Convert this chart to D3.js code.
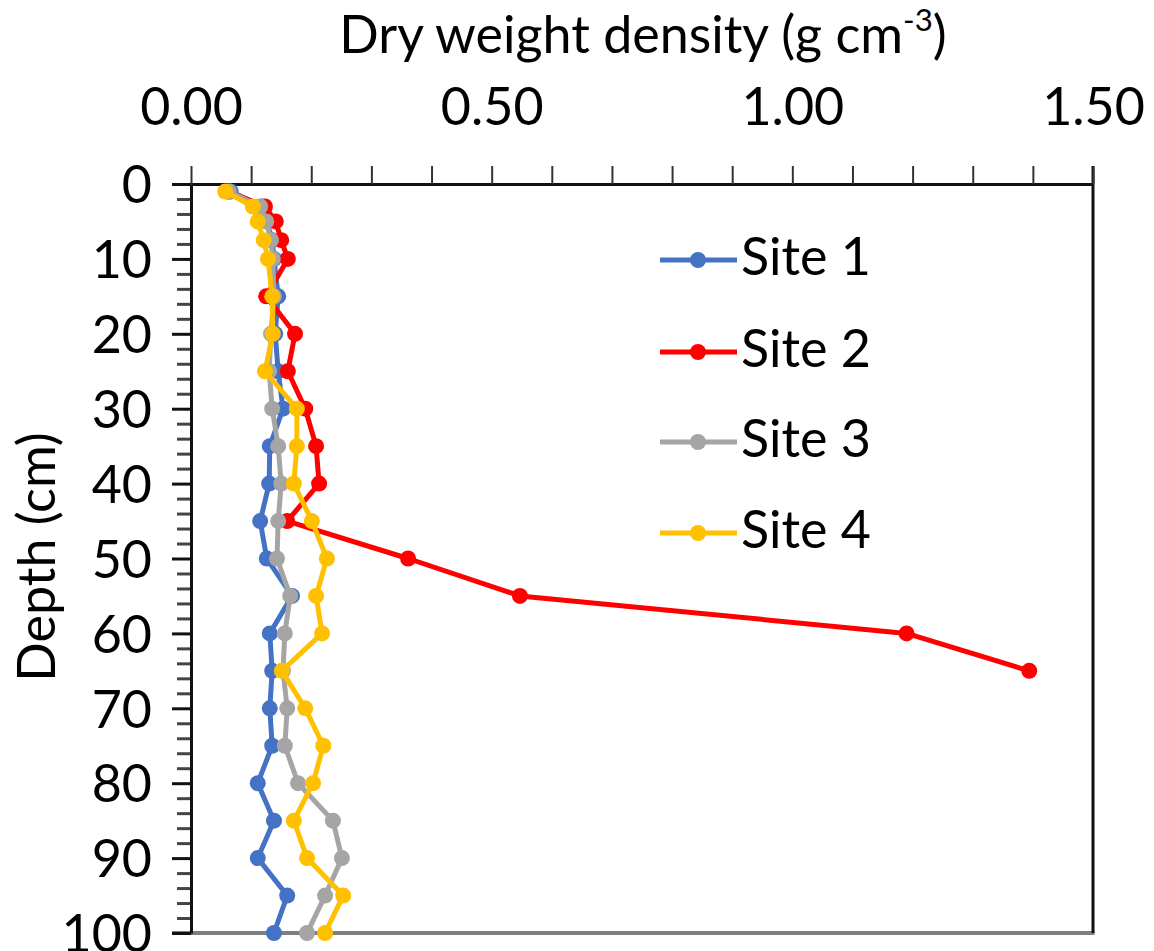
<!DOCTYPE html>
<html>
<head>
<meta charset="utf-8">
<script src="https://cdn.jsdelivr.net/npm/d3@7"></script>
<style>
  html, body { margin: 0; padding: 0; background: #fff; }
  svg { display: block; font-family: Lato, "Open Sans", sans-serif; }
</style>
</head>
<body>
<svg id="chart" width="1154" height="951"></svg>
<script>
// Sampling depths (cm)
const depths = [1, 3, 5, 7.5, 10, 15, 20, 25, 30, 35, 40, 45, 50, 55, 60, 65, 70, 75, 80, 85, 90, 95, 100];

// Dry weight density (g cm^-3) per site, one value per depth
const site1 = [0.066, 0.118, 0.126, 0.135, 0.138, 0.145, 0.140, 0.145, 0.153, 0.131, 0.130, 0.115, 0.126, 0.168, 0.131, 0.135, 0.131, 0.135, 0.111, 0.138, 0.111, 0.160, 0.138];
const site2 = [0.062, 0.123, 0.141, 0.150, 0.161, 0.125, 0.173, 0.161, 0.190, 0.208, 0.213, 0.160, 0.361, 0.547, 1.190, 1.394];
const site3 = [0.063, 0.115, 0.125, 0.133, 0.136, 0.138, 0.133, 0.130, 0.135, 0.145, 0.150, 0.145, 0.143, 0.165, 0.156, 0.153, 0.160, 0.156, 0.178, 0.236, 0.251, 0.223, 0.193];
const site4 = [0.057, 0.103, 0.111, 0.121, 0.128, 0.135, 0.136, 0.123, 0.176, 0.176, 0.171, 0.201, 0.226, 0.208, 0.218, 0.151, 0.190, 0.220, 0.203, 0.171, 0.193, 0.253, 0.223];

const seriesNames = ["Site 1", "Site 2", "Site 3", "Site 4"];
const seriesColors = ["#4472C4", "#FF0000", "#A5A5A5", "#FFC000"];
const seriesValues = [site1, site2, site3, site4];

// Axis tick labels
const xTickValues = [0, 0.5, 1.0, 1.5];
const xTickLabels = ["0.00", "0.50", "1.00", "1.50"];
const yTickValues = [0, 10, 20, 30, 40, 50, 60, 70, 80, 90, 100];
const yTickLabels = ["0", "10", "20", "30", "40", "50", "60", "70", "80", "90", "100"];

const svg = d3.select("#chart");

const x = d3.scaleLinear().domain([0, 1.5]).range([191, 1093]);
const y = d3.scaleLinear().domain([0, 100]).range([184, 933]);

const FONT = 52;
const MARKER_R = 8;
const LINE_W = 5;

// Plot frame: gray bottom edge and black right edge
svg.append("line")
  .attr("x1", 172).attr("x2", x(1.5) + 1.5)
  .attr("y1", y(100)).attr("y2", y(100))
  .attr("stroke", "#7f7f7f").attr("stroke-width", 4);
svg.append("line")
  .attr("x1", x(1.5)).attr("x2", x(1.5))
  .attr("y1", y(0) - 18).attr("y2", y(100))
  .attr("stroke", "#111").attr("stroke-width", 3);

// Top x axis: minor ticks every 0.1
const xMinor = d3.range(0, 1.5001, 0.1);
const xAxisTicks = svg.append("g")
  .attr("transform", `translate(0,${y(0)})`)
  .call(d3.axisTop(x).tickValues(xMinor).tickSize(18).tickSizeOuter(0).tickFormat(""));
xAxisTicks.select(".domain").attr("stroke", "#111").attr("stroke-width", 3);
xAxisTicks.selectAll(".tick line").attr("stroke", "#333").attr("stroke-width", 2);

// Top x axis labels
const xAxisLabels = svg.append("g")
  .attr("transform", `translate(0,${y(0)})`)
  .call(d3.axisTop(x).tickValues(xTickValues).tickSize(0).tickPadding(59)
    .tickFormat((d, i) => xTickLabels[i]));
xAxisLabels.select(".domain").remove();
xAxisLabels.selectAll("text")
  .attr("font-size", FONT).attr("font-family", "Lato").attr("fill", "#000");

// Left y axis: minor ticks every 2 cm
const yMinor = d3.range(0, 100.001, 2).filter(d => d % 10 !== 0);
const yMinorAxis = svg.append("g")
  .attr("transform", `translate(${x(0)},0)`)
  .call(d3.axisLeft(y).tickValues(yMinor).tickSize(14).tickSizeOuter(0).tickFormat(""));
yMinorAxis.select(".domain").remove();
yMinorAxis.selectAll(".tick line").attr("stroke", "#444").attr("stroke-width", 3);

// Left y axis: major ticks and labels every 10 cm
const yAxis = svg.append("g")
  .attr("transform", `translate(${x(0)},0)`)
  .call(d3.axisLeft(y).tickValues(yTickValues).tickSize(19).tickSizeOuter(0).tickPadding(20)
    .tickFormat((d, i) => yTickLabels[i]));
yAxis.select(".domain").attr("stroke", "#111").attr("stroke-width", 3);
yAxis.selectAll(".tick line").attr("stroke", "#111").attr("stroke-width", 3);
yAxis.selectAll("text")
  .attr("font-size", FONT).attr("font-family", "Lato").attr("fill", "#000")
  .attr("dy", "0.36em");

// Axis titles
const xTitle = svg.append("text")
  .attr("x", 643).attr("y", 53)
  .attr("text-anchor", "middle")
  .attr("font-size", FONT).attr("fill", "#000");
xTitle.append("tspan").text("Dry weight density (g cm");
xTitle.append("tspan").attr("font-size", FONT * 0.6).attr("dy", -22).text("-3");
xTitle.append("tspan").attr("dy", 22).text(")");

svg.append("text")
  .attr("transform", `translate(55,557) rotate(-90)`)
  .attr("text-anchor", "middle")
  .attr("font-size", FONT).attr("fill", "#000")
  .text("Depth (cm)");

// Series lines and markers
const line = d3.line()
  .x(d => x(d.v))
  .y(d => y(d.depth));

seriesValues.forEach((vals, si) => {
  const pts = vals.map((v, i) => ({ depth: depths[i], v }));
  const g = svg.append("g");
  g.append("path")
    .datum(pts)
    .attr("d", line)
    .attr("fill", "none")
    .attr("stroke", seriesColors[si])
    .attr("stroke-width", LINE_W)
    .attr("stroke-linejoin", "round");
  g.selectAll("circle")
    .data(pts)
    .enter().append("circle")
    .attr("cx", d => x(d.v))
    .attr("cy", d => y(d.depth))
    .attr("r", MARKER_R)
    .attr("fill", seriesColors[si]);
});

// Legend
const legendY = [260, 352, 442, 533];
const legend = svg.append("g");
seriesNames.forEach((name, i) => {
  const row = legend.append("g").attr("transform", `translate(0,${legendY[i]})`);
  row.append("line")
    .attr("x1", 660).attr("x2", 737).attr("y1", 0).attr("y2", 0)
    .attr("stroke", seriesColors[i]).attr("stroke-width", LINE_W);
  row.append("circle")
    .attr("cx", 698).attr("cy", 0).attr("r", MARKER_R)
    .attr("fill", seriesColors[i]);
  row.append("text")
    .attr("x", 741).attr("y", 15)
    .attr("font-size", FONT).attr("fill", "#000")
    .text(name);
});
</script>
</body>
</html>
